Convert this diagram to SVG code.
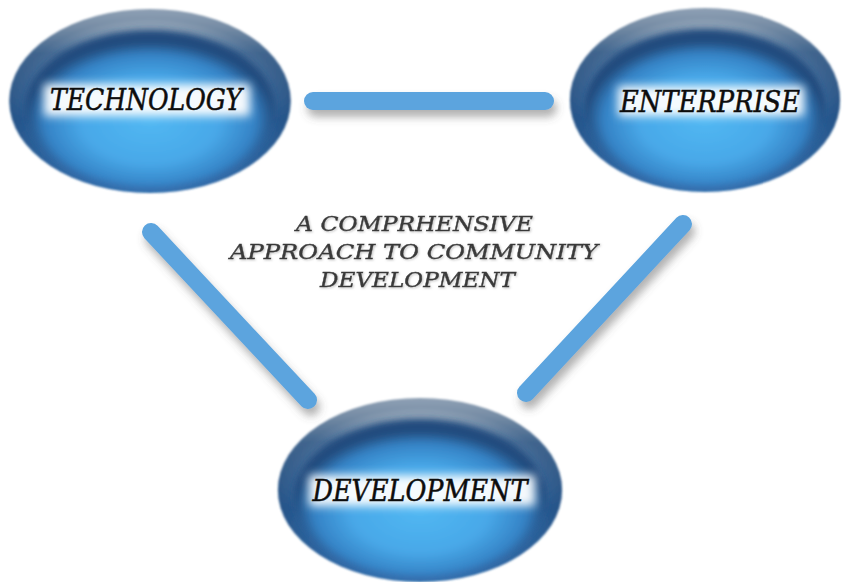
<svg xmlns="http://www.w3.org/2000/svg" xmlns:xlink="http://www.w3.org/1999/xlink" width="843" height="582" viewBox="0 0 843 582">
  <defs>
    <linearGradient id="rim" x1="0" y1="0" x2="0" y2="1">
      <stop offset="0" stop-color="#dde3e9"/>
      <stop offset="0.1" stop-color="#b3c1cf"/>
      <stop offset="0.24" stop-color="#5a7fa8"/>
      <stop offset="0.6" stop-color="#2c619c"/>
      <stop offset="1" stop-color="#3b7cc0"/>
    </linearGradient>
    <radialGradient id="rimShade" cx="0.5" cy="0.55" r="0.5">
      <stop offset="0.75" stop-color="#1a3d66" stop-opacity="0"/>
      <stop offset="1" stop-color="#1a3d66" stop-opacity="0.4"/>
    </radialGradient>
    <radialGradient id="core" cx="0.5" cy="0.58" r="0.5">
      <stop offset="0" stop-color="#52b8f3"/>
      <stop offset="0.55" stop-color="#48a8e8"/>
      <stop offset="0.84" stop-color="#3583c6"/>
      <stop offset="1" stop-color="#234c7e"/>
    </radialGradient>
    <filter id="soft" x="-10%" y="-10%" width="120%" height="120%">
      <feGaussianBlur stdDeviation="3"/>
    </filter>
    <filter id="edge" x="-5%" y="-5%" width="110%" height="110%">
      <feGaussianBlur stdDeviation="1"/>
    </filter>
    <filter id="glow" x="-20%" y="-60%" width="140%" height="220%">
      <feGaussianBlur stdDeviation="5"/>
    </filter>
    <filter id="barShadow" x="-10%" y="-30%" width="120%" height="180%">
      <feDropShadow dx="3" dy="7" stdDeviation="4" flood-color="#555" flood-opacity="0.45"/>
    </filter>
    <filter id="txtShadow" x="-5%" y="-20%" width="110%" height="150%">
      <feDropShadow dx="1" dy="1" stdDeviation="0.8" flood-color="#999" flood-opacity="0.6"/>
    </filter>
    <g id="orb">
      <g filter="url(#edge)">
        <ellipse cx="0" cy="0" rx="140" ry="92" fill="url(#rim)"/>
        <ellipse cx="0" cy="0" rx="140" ry="92" fill="url(#rimShade)"/>
      </g>
      <ellipse cx="0" cy="7" rx="124" ry="78" fill="url(#core)" filter="url(#soft)"/>
    </g>
  </defs>
  <style>
    .bar { stroke: #5ba4de; stroke-width: 18; stroke-linecap: round; fill: none; }
    .label { font-family: "DejaVu Serif", "Liberation Serif", serif; font-style: italic; font-size: 29px; fill: #0d0d0d; stroke: #0d0d0d; stroke-width: 0.5; text-anchor: middle; }
    .center { font-family: "DejaVu Serif", "Liberation Serif", serif; font-style: italic; font-size: 20px; fill: #3a3a3a; stroke: #3a3a3a; stroke-width: 0.4; text-anchor: middle; }
    .halo { fill: #ffffff; opacity: 0.95; }
  </style>
  <rect width="843" height="582" fill="#ffffff"/>

  <g id="connectors" filter="url(#barShadow)">
    <line class="bar" x1="313" y1="101" x2="545" y2="101"/>
    <line class="bar" x1="151" y1="232" x2="308" y2="400"/>
    <line class="bar" x1="683" y1="224" x2="526" y2="393"/>
  </g>

  <g id="technology">
    <use xlink:href="#orb" transform="translate(150,101) scale(1.005,1)"/>
    <rect class="halo" x="44" y="84" width="206" height="32" filter="url(#glow)"/>
    <text class="label" x="146" y="110" textLength="192" lengthAdjust="spacingAndGlyphs">TECHNOLOGY</text>
  </g>

  <g id="enterprise">
    <use xlink:href="#orb" transform="translate(705,100) scale(0.965,1)"/>
    <rect class="halo" x="618" y="86" width="186" height="30" filter="url(#glow)"/>
    <text class="label" x="710" y="112" textLength="180" lengthAdjust="spacingAndGlyphs">ENTERPRISE</text>
  </g>

  <g id="development">
    <use xlink:href="#orb" transform="translate(420,490) scale(1.015,1)"/>
    <rect class="halo" x="309" y="475" width="226" height="31" filter="url(#glow)"/>
    <text class="label" x="420" y="501" textLength="215" lengthAdjust="spacingAndGlyphs">DEVELOPMENT</text>
  </g>

  <g id="caption" filter="url(#txtShadow)">
    <text class="center" x="414.5" y="231" textLength="237" lengthAdjust="spacingAndGlyphs">A COMPRHENSIVE</text>
    <text class="center" x="414" y="259" textLength="368" lengthAdjust="spacingAndGlyphs">APPROACH TO COMMUNITY</text>
    <text class="center" x="417.5" y="287" textLength="195" lengthAdjust="spacingAndGlyphs">DEVELOPMENT</text>
  </g>
</svg>
